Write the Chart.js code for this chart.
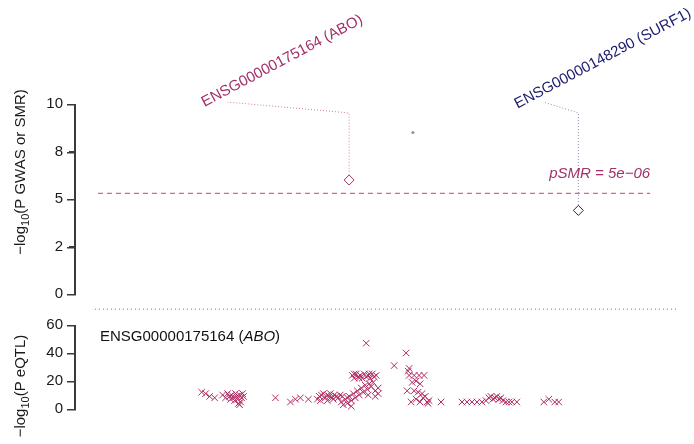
<!DOCTYPE html>
<html><head><meta charset="utf-8">
<script src="https://cdn.jsdelivr.net/npm/chart.js@4.4.1/dist/chart.umd.min.js"></script>
<style>
html,body{margin:0;padding:0;background:#fff;}
#wrap{position:relative;width:694px;height:444px;overflow:hidden;}
#top{position:absolute;left:0;top:0;width:694px;height:310px;}
#bot{position:absolute;left:0;top:310px;width:694px;height:134px;}
</style></head><body>
<div id="wrap"><div id="top"><canvas id="c1"></canvas></div><div id="bot"><canvas id="c2"></canvas></div></div>
<script>
// ---------- data ----------
const probeNames = ['ENSG00000175164', 'ENSG00000148290'];
const geneNames = ['ABO', 'SURF1'];
const probePos = [274, 504];          // position (kb, relative)
const smrLogP = [6.0, 4.4];           // -log10(P SMR)
const gwasPos = [338];
const gwasLogP = [8.5];
const smrThreshold = 5.3;             // -log10(5e-06)
const thresholdText = 'pSMR = 5e\u221206';
const topTickValues = [0, 2.5, 5, 7.5, 10];
const topTickLabels = ['0', '2', '5', '8', '10'];
const eqtlTickValues = [0, 20, 40, 60];
const eqtlTickLabels = ['0', '20', '40', '60'];
const eqtlPos = [
  126,130,134,139,
  147,150,152,154,156,158,160,161,162,164,165,166,167,168,163,164,155,159,
  200,
  215,220,225,233,
  242,244,246,248,250,252,254,255,257,259,261,263,265,267,245,252,258,
  277,279,281,283,285,287,289,291,293,295,297,299,301,279,284,294,
  291,
  266,268,270,272,274,276,278,280,282,284,286,288,290,292,294,296,298,293,300,303,303,300,276,272,
  319,331,334,333,334,339,344,349,337,341,345,332,339,343,347,350,341,345,348,354,336,352,353,366,
  387,392,397,402,407,411,414,416,418,420,422,424,426,428,431,434,437,442,469,474,480,484
];
const eqtlLogP = [
  12,11,9,8,
  10,8,11,9,10,8,11,9,7,10,5,8,11,9,4,3,7,6,
  8,
  5,7,8,7,
  7,9,10,11,8,10,9,11,8,10,9,8,10,9,6,6,7,
  24,22,25,23,24,22,25,23,24,22,25,23,24,25,22,25,
  47,
  5,3,7,4,9,6,11,8,13,10,15,12,17,14,18,16,19,10,13,15,11,9,2,8,
  31,40,29,27,24,24,24,24,19,20,18,13,13,12,11,9,7,5,8,6,5,5,4,5,
  5,5,5,5,5,6,8,9,7,8,9,7,8,6,5,5,5,5,5,7,5,5
];
const xMin = 0, xMax = 614;

// ---------- styling / layout ----------
const FONT = '"Liberation Sans", Arial, Helvetica, sans-serif';
const colABO = '#A3306A';
const colSURF = '#1C1C6E';
const colCross = '#B02A62';
const AXIS_COL = '#3a3a3a';
const TICK_LEN = 7;
const labelAnchor = [{x: 129, y: 9.84}, {x: 443, y: 9.75}];   // text start
const leaderElbowY = 9.53, leaderEndY = 10.1;
const leaderEndX = [152, 469];

function yAxisBase(tickValues, tickLabels, min, max) {
  return {
    min, max,
    afterFit(s) { s.width = 76; },
    afterBuildTicks(s) { s.ticks = tickValues.map(v => ({value: v})); },
    ticks: { callback: (v, i) => tickLabels[i], color: '#1a1a1a', padding: 6,
             font: {family: FONT, size: 15} },
    grid: { display: true, drawOnChartArea: false, drawTicks: true, tickLength: TICK_LEN, color: AXIS_COL, lineWidth: 1 },
    border: { display: false }
  };
}

// axis line + tick marks drawn from the y scale (R-style axis spanning first..last tick)
const axisLine = {
  id: 'axisLine',
  afterDraw(chart) {
    const s = chart.scales.y, ctx = chart.ctx;
    const xr = Math.round(chart.chartArea.left);
    const t = s.ticks;
    const y0 = Math.round(s.getPixelForValue(t[0].value));
    const y1 = Math.round(s.getPixelForValue(t[t.length - 1].value));
    ctx.save();
    ctx.fillStyle = AXIS_COL;
    ctx.fillRect(xr - 2, Math.min(y0, y1), 2, Math.abs(y0 - y1) + 1.5);
    t.forEach(tk => {
      const yp = Math.round(s.getPixelForValue(tk.value));
      ctx.fillRect(xr - 2 - TICK_LEN, yp, TICK_LEN, 1.5);
    });
    ctx.restore();
  }
};

function drawLogTitle(ctx, cx, cy, after) {
  ctx.save();
  ctx.translate(cx, cy);
  ctx.rotate(-Math.PI / 2);
  ctx.fillStyle = '#1a1a1a';
  const big = '15px ' + FONT, small = '11px ' + FONT;
  ctx.font = big; const w1 = ctx.measureText('\u2212log').width; const w3 = ctx.measureText(after).width;
  ctx.font = small; const w2 = ctx.measureText('10').width;
  let x0 = -(w1 + w2 + w3) / 2;
  ctx.textBaseline = 'alphabetic'; ctx.textAlign = 'left';
  ctx.font = big; ctx.fillText('\u2212log', x0, 0);
  ctx.font = small; ctx.fillText('10', x0 + w1, 4);
  ctx.font = big; ctx.fillText(after, x0 + w1 + w2, 0);
  ctx.restore();
}

const topText = {
  id: 'topText',
  afterDatasetsDraw(chart) {
    const {ctx, scales: {x, y}} = chart;
    ctx.save();
    const cols = [colABO, colSURF];
    for (let i = 0; i < probeNames.length; i++) {
      ctx.save();
      ctx.translate(x.getPixelForValue(labelAnchor[i].x), y.getPixelForValue(labelAnchor[i].y));
      ctx.rotate(-28 * Math.PI / 180);
      ctx.font = '15px ' + FONT;
      ctx.fillStyle = cols[i];
      ctx.textAlign = 'left'; ctx.textBaseline = 'alphabetic';
      ctx.fillText(probeNames[i] + ' (' + geneNames[i] + ')', 0, 0);
      ctx.restore();
    }
    ctx.font = 'italic 15px ' + FONT;
    ctx.fillStyle = colABO;
    ctx.textAlign = 'right'; ctx.textBaseline = 'alphabetic';
    ctx.fillText(thresholdText, x.getPixelForValue(576), y.getPixelForValue(smrThreshold) - 15);
    ctx.restore();
    drawLogTitle(ctx, 25, 172, '(P GWAS or SMR)');
  }
};

const botText = {
  id: 'botText',
  afterDatasetsDraw(chart) {
    const {ctx} = chart;
    ctx.save();
    ctx.fillStyle = '#111';
    ctx.textAlign = 'left'; ctx.textBaseline = 'alphabetic';
    let px = 100, py = 31;
    ctx.font = '15px ' + FONT;
    const a = probeNames[0] + ' (';
    ctx.fillText(a, px, py); px += ctx.measureText(a).width;
    ctx.font = 'italic 15px ' + FONT;
    ctx.fillText(geneNames[0], px, py); px += ctx.measureText(geneNames[0]).width;
    ctx.font = '15px ' + FONT;
    ctx.fillText(')', px, py);
    ctx.restore();
    drawLogTitle(ctx, 25, 76, '(P eQTL)');
  }
};

const lineDs = (pts, color, dash) => ({
  type: 'line', data: pts, borderColor: color, borderWidth: 1, borderDash: dash,
  pointRadius: 0, fill: false, clip: false, tension: 0
});

new Chart(document.getElementById('c1'), {
  type: 'scatter',
  data: {
    datasets: [
      { data: [{x: probePos[0], y: smrLogP[0]}], pointStyle: 'rectRot', pointRadius: 5,
        borderColor: colABO, backgroundColor: '#fff', borderWidth: 1, clip: false },
      { data: [{x: probePos[1], y: smrLogP[1]}], pointStyle: 'rectRot', pointRadius: 5,
        borderColor: colSURF, backgroundColor: '#fff', borderWidth: 1, clip: false },
      { data: gwasPos.map((v, i) => ({x: v, y: gwasLogP[i]})), pointStyle: 'circle', pointRadius: 1.6,
        borderColor: '#999', backgroundColor: '#999', borderWidth: 0, clip: false },
      lineDs([{x: probePos[0], y: smrLogP[0] + 0.28}, {x: probePos[0], y: leaderElbowY}, {x: leaderEndX[0], y: leaderEndY}], '#D27EA0', [1, 2]),
      lineDs([{x: probePos[1], y: smrLogP[1] + 0.28}, {x: probePos[1], y: leaderElbowY}, {x: leaderEndX[1], y: leaderEndY}], '#8A8AAA', [1, 2]),
      lineDs([{x: 22, y: smrThreshold}, {x: 576, y: smrThreshold}], '#C8406E', [5, 4]),
      lineDs([{x: 19, y: -0.8}, {x: 602, y: -0.8}], '#777', [1, 3])
    ]
  },
  options: {
    responsive: true, maintainAspectRatio: false, animation: false,
    layout: { padding: {top: 104, bottom: 16, left: 0, right: 4} },
    plugins: { legend: {display: false}, tooltip: {enabled: false} },
    scales: {
      x: { type: 'linear', min: xMin, max: xMax, display: false },
      y: yAxisBase(topTickValues, topTickLabels, 0, 10)
    }
  },
  plugins: [topText, axisLine]
});

new Chart(document.getElementById('c2'), {
  type: 'scatter',
  data: {
    datasets: [
      { data: eqtlPos.map((v, i) => ({x: v, y: eqtlLogP[i]})), pointStyle: 'crossRot', pointRadius: 4.6,
        borderColor: colCross, borderWidth: 1, clip: false }
    ]
  },
  options: {
    responsive: true, maintainAspectRatio: false, animation: false,
    layout: { padding: {top: 13, bottom: 35, left: 0, right: 4} },
    plugins: { legend: {display: false}, tooltip: {enabled: false} },
    scales: {
      x: { type: 'linear', min: xMin, max: xMax, display: false },
      y: yAxisBase(eqtlTickValues, eqtlTickLabels, 0, 60)
    }
  },
  plugins: [botText, axisLine]
});
</script>
</body></html>
